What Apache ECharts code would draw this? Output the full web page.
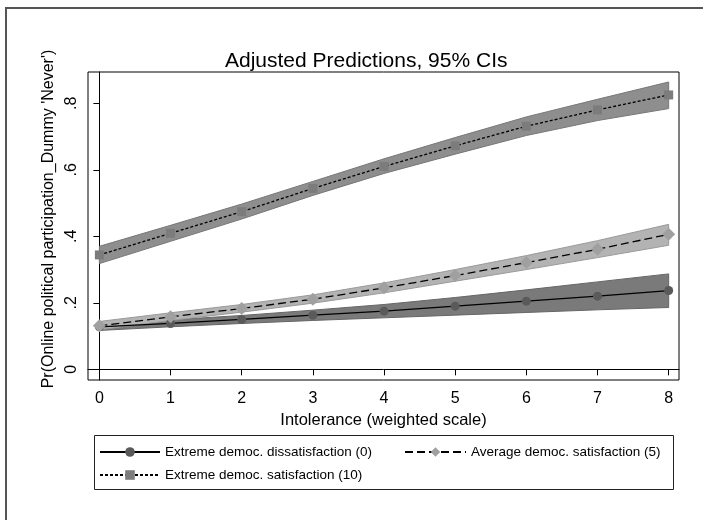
<!DOCTYPE html>
<html>
<head>
<meta charset="utf-8">
<script src="https://cdn.jsdelivr.net/npm/echarts@6/dist/echarts.min.js"></script>
<style>
  html, body { margin: 0; padding: 0; background: #fff; }
  #chart { width: 703px; height: 520px; }
</style>
</head>
<body>
<div id="chart"></div>
<script>
// intolerance scale points
const xs = [0, 1, 2, 3, 4, 5, 6, 7, 8];
const yTicks = [0, 0.2, 0.4, 0.6, 0.8];

// extreme democ. dissatisfaction (0)
const dissatFit = [0.128, 0.138, 0.150, 0.163, 0.175, 0.190, 0.205, 0.220, 0.237];
const dissatLo  = [0.117, 0.128, 0.138, 0.147, 0.155, 0.163, 0.171, 0.179, 0.186];
const dissatHi  = [0.140, 0.149, 0.162, 0.178, 0.195, 0.216, 0.239, 0.263, 0.287];

// average democ. satisfaction (5)
const avgFit = [0.131, 0.158, 0.183, 0.211, 0.245, 0.282, 0.321, 0.361, 0.406];
const avgLo  = [0.119, 0.147, 0.172, 0.199, 0.230, 0.265, 0.300, 0.336, 0.373];
const avgHi  = [0.144, 0.170, 0.195, 0.224, 0.260, 0.300, 0.342, 0.387, 0.436];

// extreme democ. satisfaction (10)
const satFit = [0.344, 0.409, 0.474, 0.544, 0.610, 0.672, 0.731, 0.780, 0.825];
const satLo  = [0.318, 0.385, 0.452, 0.523, 0.589, 0.647, 0.703, 0.748, 0.784];
const satHi  = [0.370, 0.433, 0.497, 0.565, 0.633, 0.697, 0.759, 0.812, 0.864];

const names = [
  'Extreme democ. dissatisfaction (0)',
  'Average democ. satisfaction (5)',
  'Extreme democ. satisfaction (10)'
];

const font = 'Liberation Sans, Arial, sans-serif';

function pairs(ys) {
  return xs.map((x, i) => [x, ys[i]]);
}

function band(name, lo, hi, fill, edge) {
  return {
    name: name,
    type: 'custom',
    silent: true,
    z: 1,
    data: xs.map((x, i) => [x, lo[i], hi[i]]),
    encode: {x: 0, y: [1, 2]},
    renderItem: function (params, api) {
      if (params.dataIndex !== 0) return null;
      const pts = [];
      for (let i = 0; i < xs.length; i++) pts.push(api.coord([xs[i], hi[i]]));
      for (let i = xs.length - 1; i >= 0; i--) pts.push(api.coord([xs[i], lo[i]]));
      return {
        type: 'polygon',
        shape: {points: pts},
        style: {fill: fill, stroke: edge, lineWidth: 1}
      };
    }
  };
}

function line(name, ys, symbol, size, markColor, dash) {
  return {
    name: name,
    type: 'line',
    z: 3,
    data: pairs(ys),
    symbol: symbol,
    symbolSize: size,
    showAllSymbol: true,
    itemStyle: {color: markColor},
    lineStyle: {color: '#000', width: 1.3, type: dash},
    emphasis: {disabled: true}
  };
}

const myChart = echarts.init(document.getElementById('chart'));

const legendText = {fontFamily: font, fontSize: 13.5, color: '#000'};

const option = {
  backgroundColor: '#fff',
  animation: false,
  title: {
    text: 'Adjusted Predictions, 95% CIs',
    left: 220,
    top: 46,
    textStyle: {fontFamily: font, fontSize: 21, fontWeight: 'normal', color: '#000'}
  },
  legend: [
    {
      data: [names[0], names[2]],
      orient: 'vertical',
      left: 99,
      top: 445,
      padding: 0,
      itemWidth: 60,
      itemHeight: 12,
      itemGap: 9,
      textStyle: legendText
    },
    {
      data: [names[1]],
      orient: 'vertical',
      left: 404,
      top: 445,
      padding: 0,
      itemWidth: 61,
      itemHeight: 12,
      textStyle: legendText
    }
  ],
  grid: {
    left: 88,
    right: 24,
    top: 72,
    bottom: 140,
    show: true,
    borderColor: '#000',
    borderWidth: 1
  },
  xAxis: {
    type: 'value',
    min: -0.16,
    max: 8.145,
    name: 'Intolerance (weighted scale)',
    nameLocation: 'middle',
    nameGap: 26,
    nameTextStyle: {fontFamily: font, fontSize: 16.5, color: '#000'},
    axisLine: {show: true, lineStyle: {color: '#000', width: 1}},
    axisTick: {show: true, length: 6, customValues: xs, lineStyle: {color: '#000'}},
    axisLabel: {
      customValues: xs,
      margin: 11,
      fontFamily: font,
      fontSize: 16,
      color: '#000'
    },
    splitLine: {show: false}
  },
  yAxis: {
    type: 'value',
    min: -0.032,
    max: 0.894,
    name: "Pr(Online political participation_Dummy 'Never')",
    nameLocation: 'middle',
    nameRotate: 90,
    nameGap: 27,
    nameTextStyle: {fontFamily: font, fontSize: 16, color: '#000', padding: [0, 0, 0, 14]},
    axisLine: {show: true, lineStyle: {color: '#000', width: 1}},
    axisTick: {show: true, length: 6, customValues: yTicks, lineStyle: {color: '#000'}},
    axisLabel: {
      customValues: yTicks,
      rotate: 90,
      margin: 8,
      fontFamily: font,
      fontSize: 16,
      color: '#000',
      formatter: v => (Math.abs(v) < 1e-9 ? '0' : String(Math.round(v * 10) / 10).replace('0.', '.'))
    },
    splitLine: {show: false}
  },
  graphic: [
    {
      type: 'rect',
      silent: true,
      shape: {x: 6, y: 8, width: 760, height: 600},
      style: {fill: 'none', stroke: '#555', lineWidth: 2}
    },
    {
      type: 'rect',
      silent: true,
      shape: {x: 94.5, y: 435.5, width: 579, height: 54},
      style: {fill: 'none', stroke: '#222', lineWidth: 1}
    }
  ],
  series: [
    band('ci0', dissatLo, dissatHi, '#7a7a7a', '#666'),
    band('ci5', avgLo, avgHi, '#b3b3b3', '#9a9a9a'),
    band('ci10', satLo, satHi, '#8e8e8e', '#777'),
    line(names[0], dissatFit, 'circle', 9, '#5a5a5a', 'solid'),
    line(names[1], avgFit, 'diamond', 13, '#a0a0a0', [8, 4]),
    line(names[2], satFit, 'rect', 9, '#7c7c7c', [3, 2])
  ]
};

myChart.setOption(option);
</script>
</body>
</html>
